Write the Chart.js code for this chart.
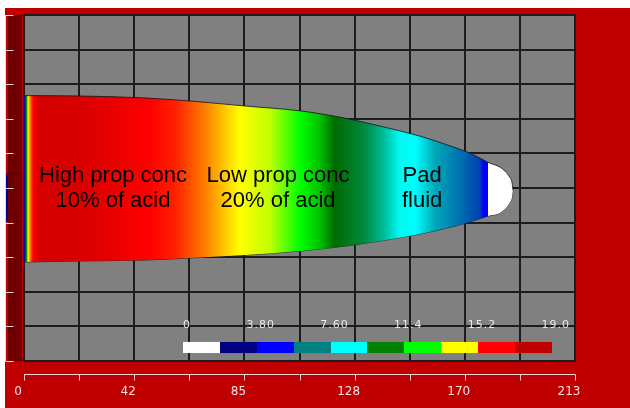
<!DOCTYPE html>
<html lang="en">
<head>
  <meta charset="UTF-8">
  <title>Fracture profile</title>
  <script src="https://cdn.jsdelivr.net/npm/chart.js"></script>
  <style>
    body { margin: 0; background: #fff; }
    #wrap { position: absolute; left: 5px; top: 8px; width: 625px; height: 400px; }
  </style>
</head>
<body>
  <div id="wrap"><canvas id="frac"></canvas></div>

  <script>
    // fracture length positions and the upper / lower wall of the fracture
    const xPos = [0, 21.3, 47.5, 68, 85.4, 106.7, 124, 137.6, 153, 165, 172.4, 179.4, 184.2, 187.7, 188.7, 189];
    const topEdge = [7.67, 7.66, 7.60, 7.49, 7.37, 7.23, 7.02, 6.79, 6.50, 6.21, 6.01, 5.74, 5.59, 5.32, 5.14, 4.94];
    const bottomEdge = [2.86, 2.89, 2.92, 2.99, 3.06, 3.18, 3.32, 3.47, 3.67, 3.87, 4.02, 4.19, 4.29, 4.57, 4.75, 4.94];

    const xGrid = [0, 21.3, 42.6, 63.9, 85.2, 106.5, 127.8, 149.1, 170.4, 191.7, 213];
    const xTickLabels = ['0', '42', '85', '128', '170', '213'];
    const yGrid = [0, 1, 2, 3, 4, 5, 6, 7, 8, 9, 10];

    // colour scale legend
    const legendTicks = ['0', '3.80', '7.60', '11.4', '15.2', '19.0'];
    const legendColors = ['#ffffff', '#000080', '#0000ff', '#008080', '#00ffff',
                          '#008000', '#00ff00', '#ffff00', '#ff0000', '#c00000'];

    // perforated interval on the wellbore
    const perfTop = 5.43;
    const perfBottom = 4.02;

    const zoneLabels = [
      { lines: ['High prop conc', '10% of acid'], x: 34.4 },
      { lines: ['Low prop conc', '20% of acid'], x: 98.2 },
      { lines: ['Pad', 'fluid'], x: 153.9 }
    ];

    // colour along the fracture (x position, colour)
    const fillStops = [
      [0, '#000080'], [0.4, '#0000ff'], [1.0, '#00a000'], [1.6, '#ffff00'],
      [2.3, '#ff8000'], [3.5, '#ff0000'], [6.2, '#d40000'], [25.5, '#dc0000'],
      [48.7, '#ff0000'], [58.4, '#ff2000'], [70, '#ff8000'], [83.5, '#ffff00'],
      [95, '#c0ff00'], [106.7, '#00ff00'], [114.4, '#00c000'], [120.2, '#006a00'],
      [131.8, '#008a40'], [139.6, '#00c0a0'], [145, '#00f8f0'], [151.2, '#00ffff'],
      [158.9, '#00a8b8'], [168.6, '#0070b0'], [176.3, '#0040b0'], [177.4, '#0000ff'],
      [179.2, '#0000ff'], [179.4, '#ffffff'], [213, '#ffffff']
    ];

    function shapeFill(context) {
      const chart = context.chart;
      if (!chart.chartArea) return null;
      const x = chart.scales.x;
      const x0 = x.getPixelForValue(0);
      const x1 = x.getPixelForValue(213);
      const g = chart.ctx.createLinearGradient(x0, 0, x1, 0);
      fillStops.forEach(([v, c]) => g.addColorStop(v / 213, c));
      return g;
    }

    const framePlugin = {
      id: 'frame',
      beforeDraw(chart) {
        const ctx = chart.ctx;
        const a = chart.chartArea;
        ctx.save();
        ctx.fillStyle = '#c00000';
        ctx.fillRect(0, 0, chart.width, chart.height);
        ctx.fillStyle = '#808080';
        ctx.fillRect(a.left, a.top, a.right - a.left, a.bottom - a.top);
        // wellbore strip
        ctx.fillStyle = '#700000';
        ctx.fillRect(a.left - 16, a.top, 14, a.bottom - a.top);
        ctx.restore();
      },
      afterDatasetsDraw(chart) {
        const ctx = chart.ctx;
        const x = chart.scales.x;
        const y = chart.scales.y;
        const a = chart.chartArea;
        ctx.save();

        // zone labels
        ctx.fillStyle = '#000';
        ctx.font = '22px "Liberation Sans", Arial, sans-serif';
        ctx.textAlign = 'center';
        ctx.textBaseline = 'alphabetic';
        zoneLabels.forEach(z => {
          ctx.fillText(z.lines[0], x.getPixelForValue(z.x), y.getPixelForValue(5.17));
          ctx.fillText(z.lines[1], x.getPixelForValue(z.x), y.getPixelForValue(4.45));
        });

        // colour legend
        const lx0 = x.getPixelForValue(61.5);
        const lx1 = x.getPixelForValue(204);
        const ly0 = y.getPixelForValue(0.55);
        const ly1 = y.getPixelForValue(0.23);
        const w = (lx1 - lx0) / legendColors.length;
        legendColors.forEach((c, i) => {
          ctx.fillStyle = c;
          ctx.fillRect(Math.round(lx0 + i * w), ly0, Math.ceil(w), ly1 - ly0);
        });
        ctx.fillStyle = '#e8e8e8';
        ctx.font = '11px "DejaVu Sans", sans-serif';
        ctx.letterSpacing = '1px';
        ctx.textBaseline = 'middle';
        legendTicks.forEach((t, i) => {
          ctx.fillText(t, lx0 + i * 2 * w + 4, y.getPixelForValue(1.04));
        });
        ctx.letterSpacing = '0px';

        // perforations
        const pt = y.getPixelForValue(perfTop);
        const pb = y.getPixelForValue(perfBottom);
        ctx.fillStyle = '#000090';
        ctx.fillRect(a.left - 19, pt, 3, pb - pt);
        ctx.strokeStyle = '#1a1a1a';
        ctx.lineWidth = 1;
        ctx.strokeRect(a.left - 18.5, pt + 0.5, 16, pb - pt - 1);

        // white axis lines with ticks
        ctx.strokeStyle = '#f0d8d8';
        ctx.lineWidth = 1;
        ctx.beginPath();
        const axY = a.bottom + 13.5;
        ctx.moveTo(x.getPixelForValue(0), axY);
        ctx.lineTo(x.getPixelForValue(213), axY);
        xGrid.forEach(v => {
          const px = Math.round(x.getPixelForValue(v)) + 0.5;
          ctx.moveTo(px, axY);
          ctx.lineTo(px, axY + 6);
        });
        const axX = a.left - 18.5;
        ctx.moveTo(axX, a.top);
        ctx.lineTo(axX, a.bottom);
        yGrid.forEach(v => {
          const py = Math.round(y.getPixelForValue(v)) + 0.5;
          ctx.moveTo(axX, py);
          ctx.lineTo(axX + 8, py);
        });
        ctx.stroke();
        ctx.restore();
      }
    };

    new Chart(document.getElementById('frac'), {
      type: 'line',
      data: {
        datasets: [
          {
            label: 'Top',
            data: xPos.map((v, i) => ({ x: v, y: topEdge[i] })),
            borderColor: 'rgba(20,20,20,0.8)',
            borderWidth: 1,
            pointRadius: 0,
            cubicInterpolationMode: 'monotone',
            backgroundColor: shapeFill,
            fill: '+1'
          },
          {
            label: 'Bottom',
            data: xPos.map((v, i) => ({ x: v, y: bottomEdge[i] })),
            borderColor: 'rgba(20,20,20,0.8)',
            borderWidth: 1,
            pointRadius: 0,
            cubicInterpolationMode: 'monotone',
            fill: false
          }
        ]
      },
      options: {
        responsive: true,
        maintainAspectRatio: false,
        animation: false,
        devicePixelRatio: 1,
        layout: { padding: { top: 7, right: 55, left: 0, bottom: 0 } },
        plugins: { legend: { display: false }, tooltip: { enabled: false } },
        scales: {
          x: {
            type: 'linear',
            min: 0,
            max: 213,
            afterBuildTicks: s => { s.ticks = xGrid.map(v => ({ value: v })); },
            afterFit: s => { s.height = 47; s.paddingLeft = 0; s.paddingRight = 0; },
            grid: { color: '#1c1c1c', lineWidth: 2, drawTicks: false },
            border: { display: true, color: '#1c1c1c', width: 2 },
            ticks: {
              autoSkip: false,
              maxRotation: 0,
              padding: 24,
              labelOffset: -6,
              color: '#f4e4e4',
              font: { family: 'DejaVu Sans', size: 12 },
              callback: (v, i) => (i % 2 === 0 ? xTickLabels[i / 2] : '')
            }
          },
          y: {
            type: 'linear',
            min: 0,
            max: 10,
            afterBuildTicks: s => { s.ticks = yGrid.map(v => ({ value: v })); },
            afterFit: s => { s.width = 19; },
            grid: { color: '#1c1c1c', lineWidth: 2, drawTicks: false },
            border: { display: true, color: '#1c1c1c', width: 2 },
            ticks: { display: false }
          }
        }
      },
      plugins: [framePlugin]
    });
  </script>
</body>
</html>
